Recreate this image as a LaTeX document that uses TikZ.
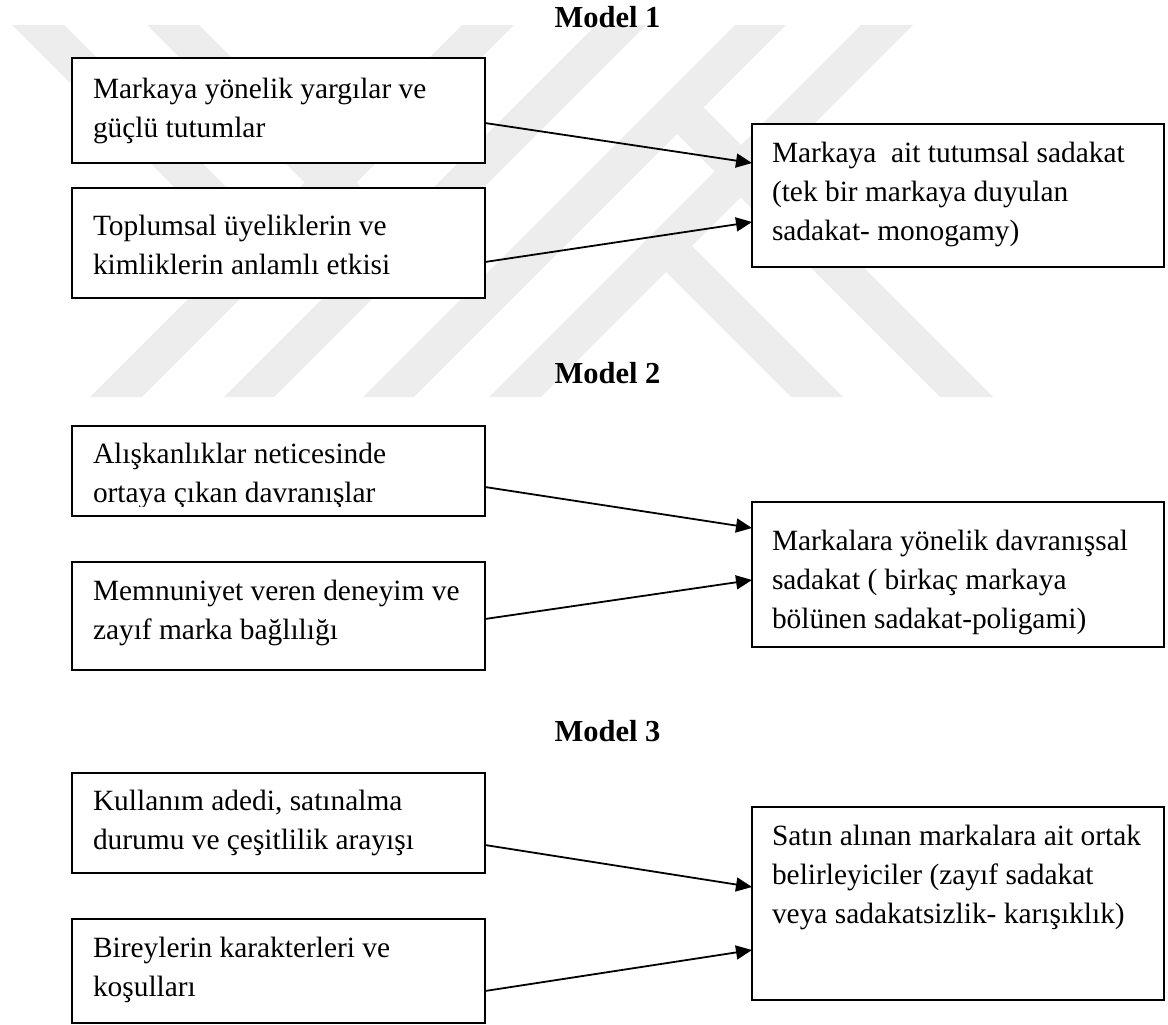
\documentclass[tikz,border=0pt]{standalone}
\usepackage{fontspec}
\setmainfont{Liberation Serif}
\usetikzlibrary{arrows.meta}

\definecolor{wm}{gray}{0.93}

% several lines set flush left, first baseline on the node's base
\newcommand{\lines}[1]{\begin{tabular}[t]{@{}l@{}}#1\end{tabular}}

\tikzset{
  boxframe/.style={draw=black, line width=2pt, fill=white, anchor=north west,
                   inner sep=0pt, outer sep=0pt},
  txt/.style={anchor=base west, inner sep=0pt, outer sep=0pt,
              font=\fontsize{29.4}{39}\selectfont},
  heading/.style={anchor=base, inner sep=0pt, outer sep=0pt,
                  font=\fontsize{30.5}{36}\selectfont\bfseries},
  conn/.style={line width=1.8pt, -{Triangle[length=16pt,width=14pt]}},
  band/.style={fill=wm, draw=none},
}

\begin{document}
\begin{tikzpicture}[x=1pt,y=-1pt]
\useasboundingbox (0,0) rectangle (1168,1025);

% faint diagonal emblem behind the first model
\fill[band] (90,397)  -- (142,397) -- (514,25) -- (462,25) -- cycle;
\fill[band] (224,397) -- (274,397) -- (646,25) -- (596,25) -- cycle;
\fill[band] (363,397) -- (414,397) -- (786,25) -- (735,25) -- cycle;
\fill[band] (489,397) -- (541,397) -- (913,25) -- (861,25) -- cycle;
\fill[band] (12,25)   -- (64,25)   -- (263,224) -- (237,250) -- cycle;
\fill[band] (147,25)  -- (199,25)  -- (397.5,223.5) -- (371.5,249.5) -- cycle;
\fill[band] (666,272) -- (692,246) -- (843,397) -- (791,397) -- cycle;
\fill[band] (677,134) -- (703.5,107.5) -- (993,397) -- (940,397) -- cycle;

% ---------------- Model 1 ----------------
\node[heading] (h1) at (607.5,28) {Model 1};
\node[boxframe, minimum width=413pt, minimum height=105pt] (b1) at (72,58) {};
\node[boxframe, minimum width=413pt, minimum height=110pt] (b2) at (72,188) {};
\node[boxframe, minimum width=412pt, minimum height=143pt] (r1) at (752,124) {};
\node[txt] (t1) at (93,99)  {\lines{Markaya yönelik yargılar ve\\güçlü tutumlar}};
\node[txt] (t2) at (93,235) {\lines{Toplumsal üyeliklerin ve\\kimliklerin anlamlı etkisi}};
\node[txt] (t3) at (772,162) {\lines{Markaya\ \ ait tutumsal sadakat\\(tek bir markaya duyulan\\sadakat- monogamy)}};
\draw[conn] ([yshift=-12.5pt]b1.east) -- ([yshift=32.5pt]r1.west);
\draw[conn] ([yshift=-19pt]b2.east)   -- ([yshift=-26.5pt]r1.west);

% ---------------- Model 2 ----------------
\node[heading] (h2) at (607.5,383) {Model 2};
\node[boxframe, minimum width=413pt, minimum height=90pt]  (b3) at (72,426) {};
\node[boxframe, minimum width=413pt, minimum height=108pt] (b4) at (72,562) {};
\node[boxframe, minimum width=412pt, minimum height=145pt] (r2) at (752,502) {};
\begin{scope}
  \clip (72,426) rectangle (485,506);
  \node[txt] (t4) at (93,463) {\lines{Alışkanlıklar neticesinde\\ortaya çıkan davranışlar}};
\end{scope}
\node[txt] (t5) at (93,600) {\lines{Memnuniyet veren deneyim ve\\zayıf marka bağlılığı}};
\node[txt] (t6) at (772,550) {\lines{Markalara yönelik davranışsal\\sadakat ( birkaç markaya\\bölünen sadakat-poligami)}};
\draw[conn] ([yshift=-16pt]b3.east) -- ([yshift=46.5pt]r2.west);
\draw[conn] ([yshift=-3pt]b4.east)  -- ([yshift=-5.5pt]r2.west);

% ---------------- Model 3 ----------------
\node[heading] (h3) at (607.5,741) {Model 3};
\node[boxframe, minimum width=413pt, minimum height=100pt] (b5) at (72,773) {};
\node[boxframe, minimum width=413pt, minimum height=104pt] (b6) at (72,919) {};
\node[boxframe, minimum width=412pt, minimum height=193pt] (r3) at (752,807) {};
\node[txt] (t7) at (93,810) {\lines{Kullanım adedi, satınalma\\durumu ve çeşitlilik arayışı}};
\node[txt] (t8) at (93,957) {\lines{Bireylerin karakterleri ve\\koşulları}};
\node[txt] (t9) at (772,845) {\lines{Satın alınan markalara ait ortak\\belirleyiciler (zayıf sadakat\\veya sadakatsizlik- karışıklık)}};
\draw[conn] ([yshift=-22pt]b5.east) -- ([yshift=16.5pt]r3.west);
\draw[conn] ([yshift=-20pt]b6.east) -- ([yshift=-46.5pt]r3.west);
\end{tikzpicture}
\end{document}
